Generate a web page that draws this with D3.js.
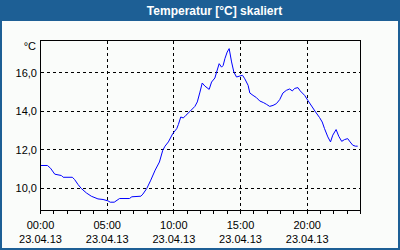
<!DOCTYPE html>
<html>
<head>
<meta charset="utf-8">
<script src="https://cdn.jsdelivr.net/npm/d3@7"></script>
<style>
  body { margin: 0; }
  svg { display: block; }
</style>
</head>
<body>
<svg id="chart"></svg>
<script>
// Messwerte: Uhrzeit in Stunden und Temperatur in °C (23.04.13)
var hours = [0.0, 0.52, 0.75, 1.07, 1.57, 1.7, 2.39, 2.56, 2.82, 3.06, 3.44, 3.81, 4.31, 4.69, 5.06, 5.23,
  5.53, 5.93, 6.67, 6.85, 7.53, 7.68, 7.97, 8.27, 8.6, 8.92, 9.17, 9.34, 9.59, 9.92, 10.22, 10.34,
  10.52, 10.71, 10.91, 11.21, 11.58, 11.76, 11.96, 12.13, 12.33, 12.65, 12.83, 13.08, 13.21, 13.4,
  13.58, 13.7, 13.83, 14.0, 14.15, 14.33, 14.5, 14.7, 14.95, 15.15, 15.32, 15.57, 15.7, 15.94, 16.2,
  16.44, 16.74, 16.94, 17.19, 17.44, 17.69, 17.94, 18.18, 18.44, 18.68, 18.89, 19.06, 19.31, 19.48,
  19.81, 20.05, 20.38, 20.63, 20.93, 21.13, 21.3, 21.55, 21.75, 21.92, 22.17, 22.37, 22.59, 22.8,
  23.04, 23.22, 23.42, 23.62, 23.79];
var temps = [11.19, 11.19, 11.05, 10.74, 10.67, 10.58, 10.58, 10.46, 10.2, 10.0, 9.77, 9.6, 9.46, 9.43, 9.36, 9.29,
  9.29, 9.48, 9.48, 9.57, 9.6, 9.71, 10.0, 10.43, 10.95, 11.37, 11.98, 12.19, 12.41, 12.84, 13.1, 13.31,
  13.7, 13.65, 13.79, 13.99, 14.25, 14.48, 14.99, 15.46, 15.3, 15.13, 15.51, 15.72, 16.03, 16.46,
  16.28, 16.37, 16.72, 17.06, 17.24, 16.55, 16.03, 15.77, 15.82, 15.86, 15.68, 15.34, 14.94, 14.82, 14.7,
  14.53, 14.44, 14.36, 14.25, 14.3, 14.39, 14.6, 14.94, 15.08, 15.15, 15.05, 15.18, 15.22, 15.05,
  14.82, 14.56, 14.22, 13.96, 13.67, 13.44, 13.1, 12.67, 12.41, 12.76, 13.05, 12.7, 12.44, 12.53,
  12.58, 12.41, 12.24, 12.19, 12.19];

var xTickHours = [0, 5, 10, 15, 20];
var xTickLabels = ["00:00", "05:00", "10:00", "15:00", "20:00"];
var dateLabel = "23.04.13";
var yTicks = [10, 12, 14, 16];

var width = 400, height = 250;
var font = "'Liberation Sans', Arial, sans-serif";

var svg = d3.select("#chart")
    .attr("width", width)
    .attr("height", height);

// Rahmen + Titelleiste
svg.append("rect")
    .attr("width", width).attr("height", height)
    .attr("fill", "#1d5f95");
svg.append("rect")
    .attr("x", 2).attr("y", 21)
    .attr("width", width - 4).attr("height", height - 23)
    .attr("fill", "#fafcfa");

svg.append("text")
    .attr("x", 214.5).attr("y", 14.5)
    .attr("text-anchor", "middle")
    .style("font-family", font)
    .style("font-size", "12px")
    .style("font-weight", "bold")
    .attr("fill", "#ffffff")
    .text("Temperatur [°C] skaliert");

var x = d3.scaleLinear()
    .domain([0, 24])
    .range([40.5, 360.5]);

var y = d3.scaleLinear()
    .domain([8.86, 17.66])
    .range([210.5, 40.5]);

var g = svg.append("g");

// Gitter
g.selectAll(".hgrid")
    .data(yTicks)
    .enter().append("line")
    .attr("x1", x(0)).attr("x2", x(24))
    .attr("y1", function(d) { return Math.round(y(d) - 0.5) + 0.5; })
    .attr("y2", function(d) { return Math.round(y(d) - 0.5) + 0.5; })
    .attr("stroke", "#000")
    .attr("stroke-dasharray", "3,3")
    .attr("shape-rendering", "crispEdges");

g.selectAll(".vgrid")
    .data(xTickHours.slice(1))
    .enter().append("line")
    .attr("x1", function(d) { return Math.round(x(d) - 0.5) + 0.5; })
    .attr("x2", function(d) { return Math.round(x(d) - 0.5) + 0.5; })
    .attr("y1", y.range()[1]).attr("y2", y.range()[0])
    .attr("stroke", "#000")
    .attr("stroke-dasharray", "3,3")
    .attr("shape-rendering", "crispEdges");

// Kurve
var line = d3.line()
    .x(function(d, i) { return x(hours[i]); })
    .y(function(d) { return y(d); });

g.append("path")
    .datum(temps)
    .attr("d", line)
    .attr("fill", "none")
    .attr("stroke", "#0000ff")
    .attr("stroke-width", 1);

// Rahmen Plotbereich
g.append("rect")
    .attr("x", x(0)).attr("y", y.range()[1])
    .attr("width", x(24) - x(0))
    .attr("height", y.range()[0] - y.range()[1])
    .attr("fill", "none")
    .attr("stroke", "#000")
    .attr("shape-rendering", "crispEdges");

// Stundenticks
g.selectAll(".tick")
    .data(d3.range(0, 25))
    .enter().append("line")
    .attr("x1", function(d) { return Math.round(x(d) - 0.5) + 0.5; })
    .attr("x2", function(d) { return Math.round(x(d) - 0.5) + 0.5; })
    .attr("y1", y.range()[0]).attr("y2", y.range()[0] + 3)
    .attr("stroke", "#000")
    .attr("shape-rendering", "crispEdges");

// Achsenbeschriftung
g.selectAll(".ylab")
    .data(yTicks)
    .enter().append("text")
    .attr("x", 37)
    .attr("y", function(d) { return y(d) + 4; })
    .attr("text-anchor", "end")
    .style("font-family", font)
    .style("font-size", "11px")
    .text(function(d) { return d3.format(".1f")(d).replace(".", ","); });

g.append("text")
    .attr("x", 36).attr("y", 50)
    .attr("text-anchor", "end")
    .style("font-family", font)
    .style("font-size", "11px")
    .text("°C");

var xl = g.selectAll(".xlab")
    .data(xTickHours)
    .enter().append("g")
    .attr("transform", function(d) { return "translate(" + x(d) + ",0)"; });

xl.append("text")
    .attr("y", 228.5)
    .attr("text-anchor", "middle")
    .style("font-family", font)
    .style("font-size", "11px")
    .text(function(d, i) { return xTickLabels[i]; });

xl.append("text")
    .attr("y", 243)
    .attr("text-anchor", "middle")
    .style("font-family", font)
    .style("font-size", "11px")
    .text(dateLabel);
</script>
</body>
</html>
